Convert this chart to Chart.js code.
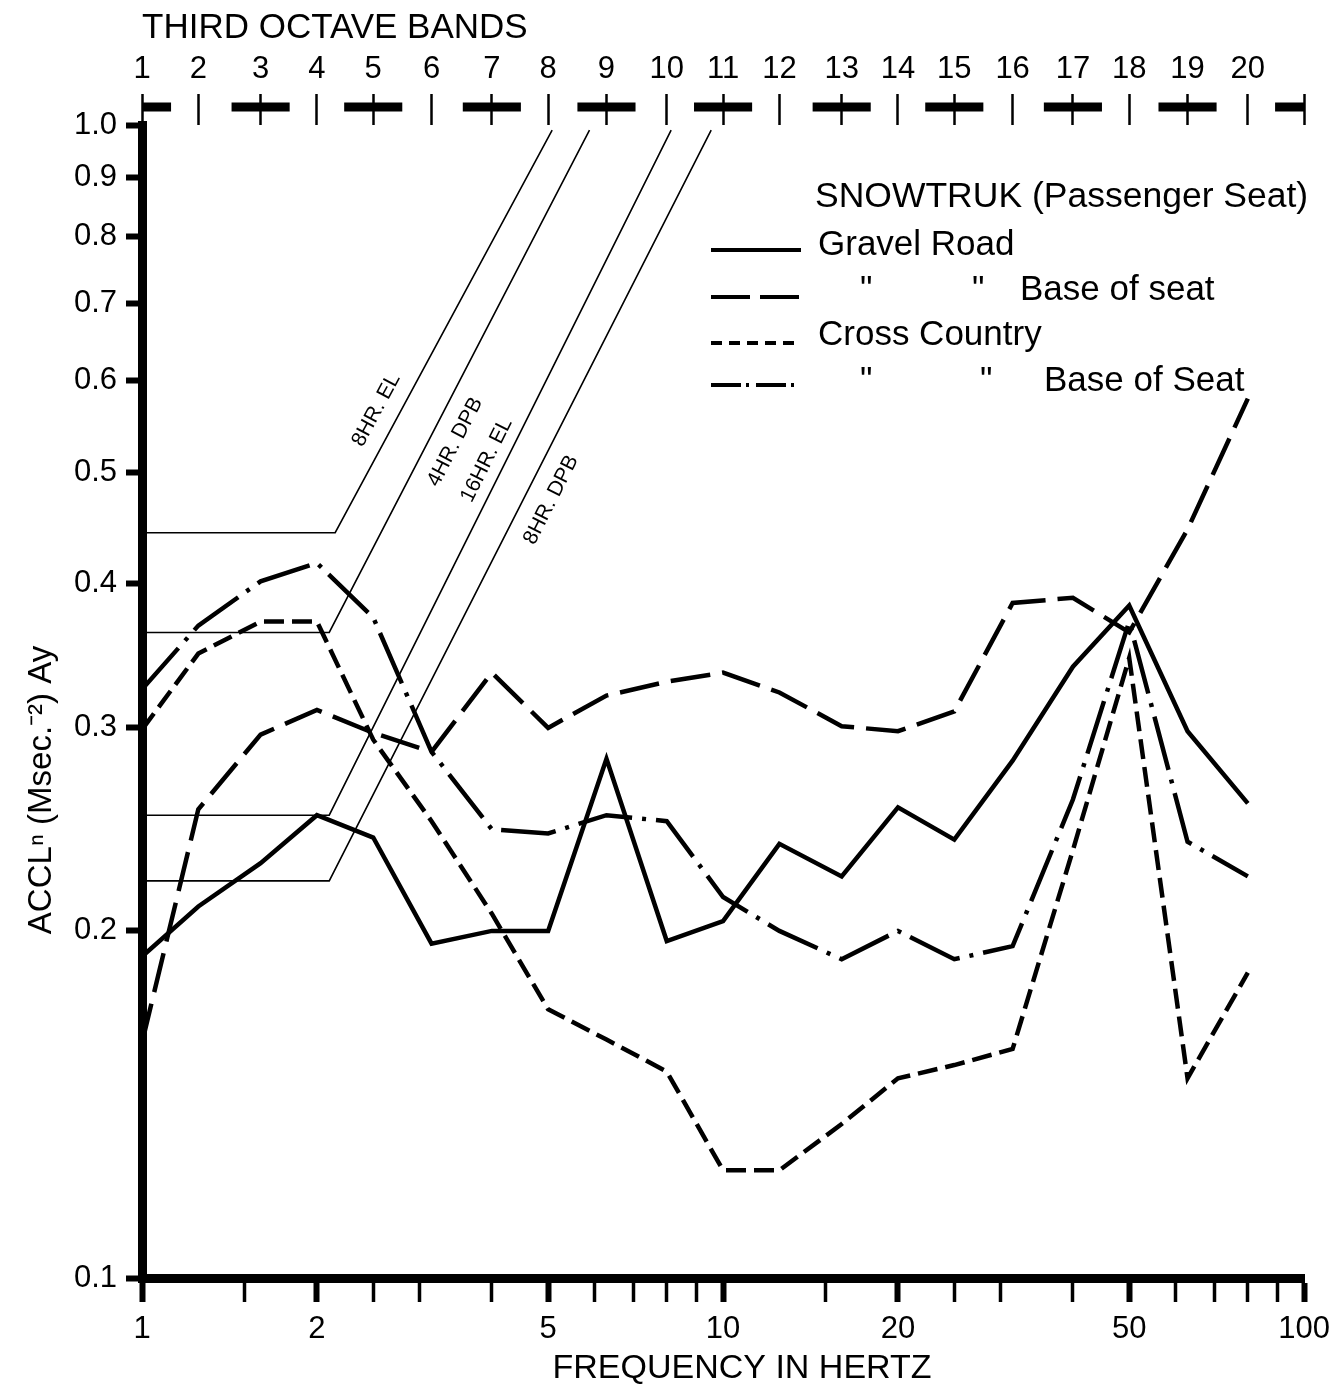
<!DOCTYPE html>
<html>
<head>
<meta charset="utf-8">
<title>Snowtruk passenger seat vibration</title>
<script src="https://cdn.jsdelivr.net/npm/chart.js@4.4.1/dist/chart.umd.min.js"></script>
<style>
  html, body { margin: 0; padding: 0; background: #fff; }
  #wrap { width: 1339px; height: 1392px; }
</style>
</head>
<body>
<div id="wrap"><canvas id="vibChart" width="1339" height="1392"></canvas></div>
<script>
// third octave band centre frequencies (Hz), bands 1 - 20
const bandFreqs = [1, 1.25, 1.6, 2, 2.5, 3.15, 4, 5, 6.3, 8, 10, 12.5, 16, 20, 25, 31.5, 40, 50, 63, 80];
const bandNumbers = [1, 2, 3, 4, 5, 6, 7, 8, 9, 10, 11, 12, 13, 14, 15, 16, 17, 18, 19, 20];
const bandTicks = bandFreqs.concat([100]);

// acceleration Ay (m/s^2) per band
const gravelRoad   = [0.190, 0.210, 0.229, 0.252, 0.241, 0.195, 0.200, 0.200, 0.282, 0.196, 0.204, 0.238, 0.223, 0.256, 0.240, 0.281, 0.339, 0.383, 0.298, 0.258];
const gravelBase   = [0.160, 0.255, 0.296, 0.311, 0.297, 0.286, 0.335, 0.300, 0.320, 0.329, 0.335, 0.322, 0.301, 0.298, 0.310, 0.385, 0.389, 0.363, 0.446, 0.579];
const crossCountry = [0.299, 0.348, 0.371, 0.371, 0.293, 0.249, 0.207, 0.171, 0.161, 0.151, 0.124, 0.124, 0.136, 0.149, 0.153, 0.158, 0.235, 0.345, 0.149, 0.184];
const crossBase    = [0.324, 0.368, 0.402, 0.417, 0.374, 0.286, 0.245, 0.243, 0.252, 0.249, 0.214, 0.200, 0.189, 0.200, 0.189, 0.194, 0.260, 0.371, 0.239, 0.223];

// exposure limit / proficiency boundaries: flat, then rising to the top
const limitNames   = ['8HR. EL', '4HR. DPB', '16HR. EL', '8HR. DPB'];
const limitLevels  = [0.443, 0.363, 0.252, 0.221];
const limitCorners = [2.15, 2.1, 2.1, 2.1];
const limitEnds    = [5.08, 5.89, 8.14, 9.54];
const limitTop = 0.99;
const limitLabelFreq = [2.53, 3.46, 3.92, 5.06];
const limitLabelAcc  = [0.566, 0.531, 0.512, 0.473];

// axis ticks
const xTicks = [1, 1.5, 2, 2.5, 3, 4, 5, 6, 7, 8, 9, 10, 15, 20, 25, 30, 40, 50, 60, 70, 80, 90, 100];
const xLabelled = [1, 2, 5, 10, 20, 50, 100];
const yTicks = [0.1, 0.2, 0.3, 0.4, 0.5, 0.6, 0.7, 0.8, 0.9, 1.0];

const FONT = '"Liberation Sans", Arial, Helvetica, sans-serif';
Chart.defaults.font.family = FONT;
Chart.defaults.color = '#000';

const toPoints = vals => bandFreqs.map((f, i) => ({ x: f, y: vals[i] }));

const series = [
  { label: 'Gravel Road', data: gravelRoad, dash: [] },
  { label: 'Gravel Road Base of seat', data: gravelBase, dash: [40, 12] },
  { label: 'Cross Country', data: crossCountry, dash: [20, 8] },
  { label: 'Cross Country Base of Seat', data: crossBase, dash: [55, 10, 4, 10] }
];

const datasets = series.map(s => ({
  label: s.label,
  data: toPoints(s.data),
  borderColor: '#000',
  borderWidth: 4.5,
  borderDash: s.dash,
  borderJoinStyle: 'miter',
  pointRadius: 0,
  tension: 0,
  fill: false
}));

limitNames.forEach((name, i) => {
  datasets.push({
    label: name,
    data: [
      { x: 1, y: limitLevels[i] },
      { x: limitCorners[i], y: limitLevels[i] },
      { x: limitEnds[i], y: limitTop }
    ],
    borderColor: '#000',
    borderWidth: 1.6,
    pointRadius: 0,
    tension: 0,
    fill: false
  });
});

// band bar above the plot, limit labels, legend and axis titles
const decorations = {
  id: 'decorations',
  afterDraw(chart) {
    const { ctx, chartArea } = chart;
    const sx = chart.scales.x, sy = chart.scales.y, st = chart.scales.x2;
    ctx.save();

    // === third octave band bar ===
    const barY = chartArea.top - 18;
    ctx.fillStyle = '#000';
    bandTicks.forEach((f, i) => {
      if (i % 2) return;
      const lo = Math.max(st.min, f / Math.pow(10, 0.05));
      const hi = Math.min(st.max, f * Math.pow(10, 0.05));
      const x0 = st.getPixelForValue(lo), x1 = st.getPixelForValue(hi);
      ctx.fillRect(x0, barY - 4.5, x1 - x0, 9);
    });

    // === limit line labels ===
    ctx.font = '21px ' + FONT;
    ctx.textAlign = 'center';
    ctx.textBaseline = 'middle';
    limitNames.forEach((name, i) => {
      const ax = sx.getPixelForValue(limitCorners[i]), ay = sy.getPixelForValue(limitLevels[i]);
      const bx = sx.getPixelForValue(limitEnds[i]), by = sy.getPixelForValue(limitTop);
      const ang = Math.atan2(by - ay, bx - ax);
      ctx.save();
      ctx.translate(sx.getPixelForValue(limitLabelFreq[i]), sy.getPixelForValue(limitLabelAcc[i]));
      ctx.rotate(ang);
      ctx.fillText(name, 0, 0);
      ctx.restore();
    });

    // === legend ===
    ctx.textAlign = 'left';
    ctx.font = '35.5px ' + FONT;
    ctx.fillText('SNOWTRUK (Passenger Seat)', 815, 197);
    const rows = [
      { y: 245, line: 250, dash: [], parts: [['Gravel Road', 818]] },
      { y: 290, line: 297, dash: [39, 10], parts: [['"', 860], ['"', 972], ['Base of seat', 1020]] },
      { y: 335, line: 343, dash: [11, 7], parts: [['Cross Country', 818]] },
      { y: 381, line: 385, dash: [30, 5, 3, 7], parts: [['"', 860], ['"', 980], ['Base of Seat', 1044]] }
    ];
    ctx.font = '35px ' + FONT;
    ctx.strokeStyle = '#000';
    ctx.lineWidth = 4;
    rows.forEach(r => {
      ctx.setLineDash(r.dash);
      ctx.beginPath();
      ctx.moveTo(711, r.line);
      ctx.lineTo(801, r.line);
      ctx.stroke();
      r.parts.forEach(p => ctx.fillText(p[0], p[1], r.y));
    });
    ctx.setLineDash([]);

    // === x axis title ===
    ctx.textAlign = 'center';
    ctx.font = '34px ' + FONT;
    ctx.fillText('FREQUENCY IN HERTZ', 742, 1369);

    // === y axis title ===
    ctx.translate(42, 790);
    ctx.rotate(-Math.PI / 2);
    ctx.font = '33px ' + FONT;
    ctx.fillText('ACCLⁿ (Msec.⁻²) Ay', 0, 0);
    ctx.restore();
  }
};

new Chart(document.getElementById('vibChart'), {
  type: 'line',
  data: { datasets },
  plugins: [decorations],
  options: {
    responsive: false,
    animation: false,
    layout: { padding: { left: 0, right: 33, top: 0, bottom: 0 } },
    plugins: { legend: { display: false }, tooltip: { enabled: false } },
    scales: {
      x: {
        type: 'logarithmic', position: 'bottom', min: 1, max: 100,
        afterBuildTicks: s => { s.ticks = xTicks.map(v => ({ value: v })); },
        afterFit: s => { s.height = 114; },
        ticks: {
          autoSkip: false, maxRotation: 0, padding: 9, color: '#000',
          font: { size: 31 },
          callback: v => xLabelled.includes(v) ? String(v) : ''
        },
        grid: {
          drawOnChartArea: false, drawTicks: true, tickLength: 24, tickColor: '#000',
          tickWidth: c => (c.tick && xLabelled.includes(c.tick.value)) ? 6 : 3.5
        },
        border: { display: true, color: '#000', width: 9 }
      },
      x2: {
        type: 'logarithmic', position: 'top', min: 1, max: 100,
        afterBuildTicks: s => { s.ticks = bandTicks.map(v => ({ value: v })); },
        afterFit: s => { s.height = 125; },
        ticks: {
          autoSkip: false, maxRotation: 0, padding: 6, color: '#000',
          font: { size: 31 },
          callback: (v, i) => i < bandNumbers.length ? String(bandNumbers[i]) : ''
        },
        grid: { drawOnChartArea: false, drawTicks: true, tickLength: 31, tickWidth: 2.5, tickColor: '#000' },
        border: { display: false },
        title: { display: true, text: 'THIRD OCTAVE BANDS', align: 'start', color: '#000', font: { size: 35 }, padding: { top: 7, bottom: 0 } }
      },
      y: {
        type: 'logarithmic', position: 'left', min: 0.1, max: 1.0,
        afterBuildTicks: s => { s.ticks = yTicks.map(v => ({ value: v })); },
        afterFit: s => { s.width = 142; },
        ticks: {
          autoSkip: false, padding: 9, color: '#000',
          font: { size: 31 },
          callback: v => v.toFixed(1)
        },
        grid: { drawOnChartArea: false, drawTicks: true, tickLength: 16, tickWidth: 6, tickColor: '#000' },
        border: { display: true, color: '#000', width: 9 }
      }
    }
  }
});
</script>
</body>
</html>
